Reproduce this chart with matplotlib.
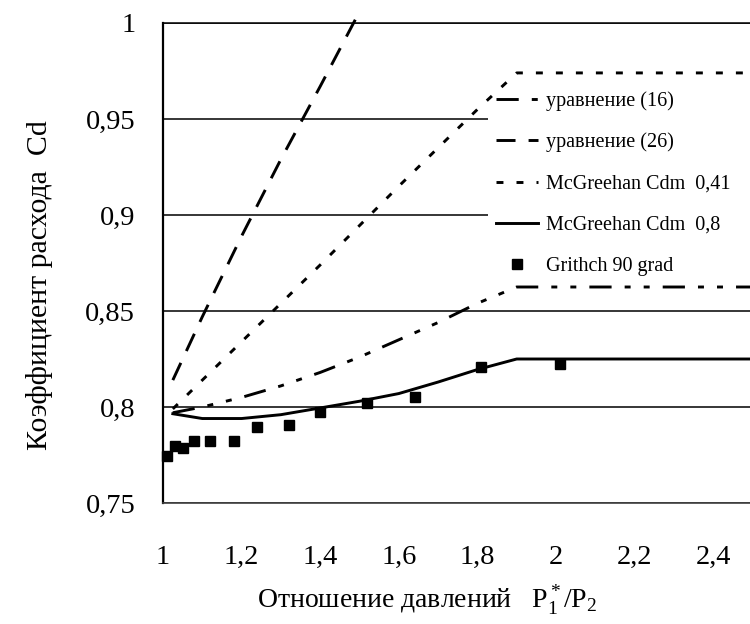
import matplotlib.pyplot as plt

plt.rcParams['font.family'] = 'Liberation Serif'
plt.rcParams['mathtext.fontset'] = 'custom'
plt.rcParams['mathtext.rm'] = 'Liberation Serif'
plt.rcParams['mathtext.it'] = 'Liberation Serif:italic'
plt.rcParams['lines.scale_dashes'] = False

# Data
x_eq16 = [1.025, 1.1, 1.2, 1.3, 1.4, 1.5, 1.6, 1.7, 1.8, 1.9, 2.5]
cd_eq16 = [0.797, 0.800, 0.805, 0.811, 0.818, 0.826, 0.835, 0.844, 0.854, 0.8625, 0.8625]

x_eq26 = [1.025, 1.1, 1.2, 1.3, 1.4, 1.49]
cd_eq26 = [0.814, 0.847, 0.889, 0.929, 0.967, 1.002]

x_mc041 = [1.025, 1.2, 1.4, 1.6, 1.8, 1.9, 2.5]
cd_mc041 = [0.799, 0.834, 0.874, 0.915, 0.955, 0.974, 0.974]

x_mc08 = [1.025, 1.1, 1.2, 1.3, 1.4, 1.5, 1.6, 1.7, 1.8, 1.9, 2.5]
cd_mc08 = [0.7965, 0.794, 0.794, 0.796, 0.7995, 0.803, 0.807, 0.813, 0.8195, 0.825, 0.825]

x_grithch = [1.01, 1.03, 1.05, 1.08, 1.12, 1.18, 1.24, 1.32, 1.40, 1.52, 1.64, 1.81, 2.01]
cd_grithch = [0.7745, 0.7797, 0.7786, 0.7823, 0.7823, 0.7823, 0.7896, 0.7906, 0.7974,
              0.802, 0.805, 0.821, 0.8225]

labels = ['уравнение (16)', 'уравнение (26)', 'McGreehan Cdm  0,41',
          'McGreehan Cdm  0,8', 'Grithch 90 grad']

x_ticks = [1, 1.2, 1.4, 1.6, 1.8, 2, 2.2, 2.4]
x_ticklabels = ['1', '1,2', '1,4', '1,6', '1,8', '2', '2,2', '2,4']
y_ticks = [0.75, 0.8, 0.85, 0.9, 0.95, 1]
y_ticklabels = ['0,75', '0,8', '0,85', '0,9', '0,95', '1']

fig = plt.figure(figsize=(7.5, 6.24), dpi=100)
ax = fig.add_axes([163/750, 121/624, 587/750, 480/624])
ax.set_xlim(1, 1 + 587/393)
ax.set_ylim(0.75, 1)

lw = 2.1
ax.plot(x_eq16, cd_eq16, color='black', lw=lw, dashes=(16, 9.4, 4.3, 9.4, 4.3, 9.4),
        label=labels[0], zorder=3)
ax.plot(x_eq26, cd_eq26, color='black', lw=lw, dashes=(13.7, 9.4),
        label=labels[1], zorder=3, clip_on=False)
ax.plot(x_mc041, cd_mc041, color='black', lw=lw, dashes=(5, 9.4),
        label=labels[2], zorder=3)
ax.plot(x_mc08, cd_mc08, color='black', lw=lw, label=labels[3], zorder=3)
ax.plot(x_grithch, cd_grithch, ls='none', marker='s', ms=7.2, color='black',
        label=labels[4], zorder=3, clip_on=False)

ax.set_xticks(x_ticks)
ax.set_xticklabels(x_ticklabels)
ax.set_yticks(y_ticks)
ax.set_yticklabels(y_ticklabels)
ax.tick_params(axis='both', length=0, labelsize=20.5)
ax.tick_params(axis='y', pad=20)
ax.tick_params(axis='x', pad=30)

ax.set_axisbelow(True)
ax.yaxis.grid(True, color='black', lw=1.1)
ax.spines['right'].set_visible(False)
ax.spines['top'].set_linewidth(1.1)
ax.spines['left'].set_linewidth(1.6)
ax.spines['bottom'].set_linewidth(1.2)
ax.spines['bottom'].set_color('#404040')

ax.set_xlabel('Отношение давлений   $\\mathregular{P_1^*/P_2}$', fontsize=20)
ax.xaxis.set_label_coords((427 - 163)/587, -(600 - 503)/480)
ax.xaxis.label.set_va('center')
ax.set_ylabel('Коэффициент расхода  Cd', fontsize=21.5)
ax.yaxis.set_label_coords((40 - 163)/587, (503 - 285)/480)
ax.yaxis.label.set_va('center')

leg = ax.legend(loc='upper left', bbox_to_anchor=(488/750, 1 - 89/624, 280/750, 0.01),
                bbox_transform=fig.transFigure, mode='expand', frameon=True,
                facecolor='white', edgecolor='none', fancybox=False, framealpha=1,
                fontsize=14.5, handlelength=2.1, handletextpad=0.4, labelspacing=1.1,
                borderpad=0.4, borderaxespad=0)
leg.set_zorder(2.5)

fig.savefig('out.png', dpi=100)
